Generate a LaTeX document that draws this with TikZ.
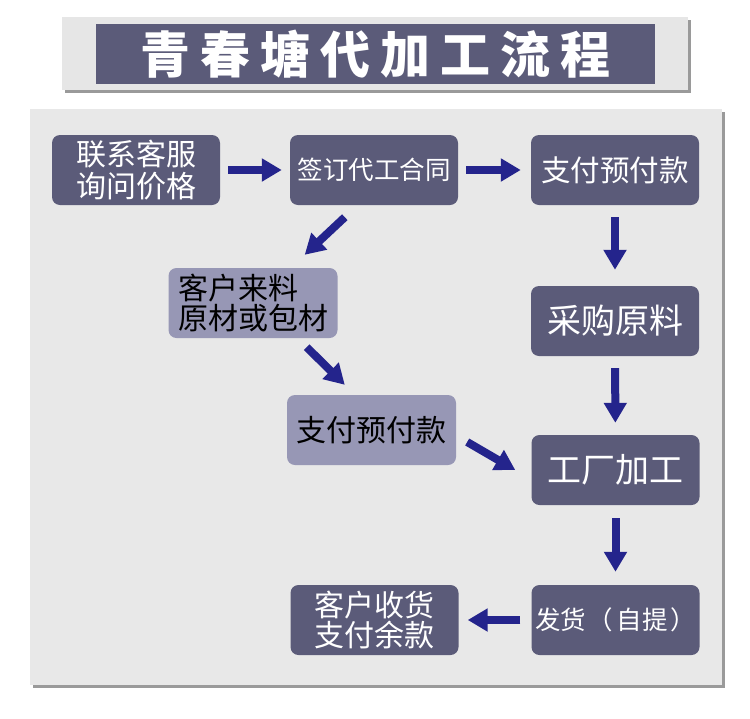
\documentclass[tikz,border=0pt]{standalone}
\usepackage{fontspec}
\newfontfamily\cjk{Noto Sans CJK SC}
\usetikzlibrary{arrows.meta,calc}
\definecolor{darkbox}{HTML}{5B5B79}
\definecolor{lightbox}{HTML}{9797B5}
\definecolor{panelc}{HTML}{E8E8E8}
\definecolor{titleouter}{HTML}{E6E6E6}
\definecolor{arrowc}{HTML}{24248C}
\definecolor{shadowc}{HTML}{9A9A9A}
\tikzset{
  darknode/.style={fill=darkbox, rounded corners=8pt, minimum width=168pt, minimum height=70pt, text=white, inner sep=0pt, font=\cjk},
  lightnode/.style={fill=lightbox, rounded corners=8pt, minimum width=169pt, minimum height=70pt, text=black, inner sep=0pt, font=\cjk},
  flowarrow/.style={draw=arrowc, line width=8pt, -{Triangle[length=20pt,width=22pt]}}
}
\begin{document}
\begin{tikzpicture}[x=1pt,y=-1pt]
\useasboundingbox (0,0) rectangle (750,718);
\fill[white] (0,0) rectangle (750,718);
% title
\fill[shadowc] (65,20) rectangle (691,93);
\fill[titleouter] (62,17) rectangle (688,90);
\fill[darkbox] (96,24) rectangle (655,84);
\node[text=white, font=\cjk\bfseries\fontsize{50}{52}\selectfont] (title) at (375,54) {青\hspace{10pt}春\hspace{10pt}塘\hspace{10pt}代\hspace{10pt}加\hspace{10pt}工\hspace{10pt}流\hspace{10pt}程};
% panel
\fill[shadowc] (33,112) rectangle (725,688);
\fill[panelc] (30,109) rectangle (722,685);
% nodes
\node[darknode, align=center, font=\cjk\fontsize{30}{32}\selectfont] (n1) at (136,170) {联系客服\\询问价格};
\node[darknode, font=\cjk\fontsize{25.5}{28}\selectfont] (n2) at (374,170) {签订代工合同};
\node[darknode, font=\cjk\fontsize{29.5}{32}\selectfont] (n3) at (615,170) {支付预付款};
\node[lightnode, align=left, font=\cjk\fontsize{30}{30}\selectfont] (n4) at (253,303) {客户来料\\原材或包材};
\node[darknode, font=\cjk\fontsize{34}{36}\selectfont] (n5) at (615,321) {采购原料};
\node[lightnode, font=\cjk\fontsize{30}{32}\selectfont] (n6) at (371.5,430) {支付预付款};
\node[darknode, font=\cjk\fontsize{34}{36}\selectfont] (n7) at (615.5,470) {工厂加工};
\node[darknode, align=center, font=\cjk\fontsize{30}{28}\selectfont] (n8) at (374.5,620) {客户收货\\支付余款};
\node[darknode, font=\cjk\fontsize{25.5}{28}\selectfont] (n9) at (615.5,620) {发货\hspace{2pt}（\hspace{3pt}自提\hspace{3pt}）};
% arrows
\draw[flowarrow, shorten <=8pt, shorten >=8pt] (n1) -- (n2);
\draw[flowarrow, shorten <=8pt, shorten >=10pt] (n2) -- (n3);
\draw[flowarrow, shorten <=12pt, shorten >=16pt] (n3) -- (n5);
\draw[flowarrow, shorten <=12pt, shorten >=12pt] (n5) -- (n7);
\draw[flowarrow, shorten <=13pt, shorten >=13pt] (n7) -- (n9);
\draw[flowarrow, shorten <=11pt, shorten >=9pt] (n9) -- (n8);
\draw[flowarrow] ($(n2.south west)+(55,12)$) -- ($(n4.north east)+(-33,-13)$);
\draw[flowarrow] ($(n4.south east)+(-31,9)$) -- ($(n6.north west)+(58,-10)$);
\draw[flowarrow] ($(n6.east)+(11,12)$) -- ($(n7.west)+(-16,0)$);
\end{tikzpicture}
\end{document}
